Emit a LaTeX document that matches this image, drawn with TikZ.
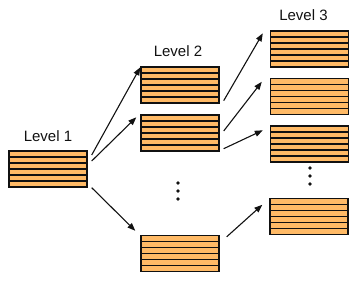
\documentclass[tikz,border=0pt]{standalone}
\usepackage{fontspec}
\setmainfont{Liberation Sans}
\usepackage{tikz}
\usetikzlibrary{arrows.meta,positioning,calc}
\definecolor{crate}{HTML}{FFBA66}
\definecolor{ink}{HTML}{111111}
\tikzset{
  stack/.style={rectangle, draw=ink, fill=crate, line width=1.4pt, inner sep=0pt,
                minimum width=78pt, minimum height=36pt,
                path picture={\foreach \k in {1,...,5}{
                  \draw[ink, line width=1.4pt]
                    ($(path picture bounding box.south west)!\k/6!(path picture bounding box.north west)$) --
                    ($(path picture bounding box.south east)!\k/6!(path picture bounding box.north east)$);}}},
  lvl/.style={font=\fontsize{15}{18}\selectfont, inner sep=0pt, text=ink},
  flow/.style={-{Triangle[length=8pt,width=6pt]}, draw=ink, line width=1.1pt},
  dot/.style={circle, fill=ink, inner sep=0pt, minimum size=3.6pt}
}
\begin{document}
\begin{tikzpicture}[x=1pt,y=1pt]
  \useasboundingbox (0,0) rectangle (354,288);
  % level 1
  \node[stack] (l1) at (48,119) {};
  % level 2
  \node[stack] (l2a) at (180,203) {};
  \node[stack] (l2b) at (180,155) {};
  \node[stack] (l2c) at (180,34.5) {};
  % level 3
  \node[stack] (l3a) at (309.5,239) {};
  \node[stack] (l3b) at (309.5,191.5) {};
  \node[stack] (l3c) at (309.5,144) {};
  \node[stack] (l3d) at (309,71.5) {};
  % labels
  \node[lvl, above=8pt of l1] (t1) {Level 1};
  \node[lvl, above=9pt of l2a, xshift=-2pt] (t2) {Level 2};
  \node[lvl, above=9pt of l3a, xshift=-6pt] (t3) {Level 3};
  % elided boxes
  \foreach \y in {105,97,89} \node[dot] (d2\y) at (178,\y) {};
  \foreach \y in {120,112,104} \node[dot] (d3\y) at (310,\y) {};
  % level 1 -> level 2
  \draw[flow] ([shift={(4pt,14pt)}]l1.east) -- ([shift={(0pt,-1pt)}]l2a.north west);
  \draw[flow] ([shift={(4pt,8pt)}]l1.east) -- ([shift={(-4pt,-3pt)}]l2b.north west);
  \draw[flow] ([shift={(4pt,0pt)}]l1.south east) -- ([shift={(-5pt,4pt)}]l2c.north west);
  % level 2 -> level 3
  \draw[flow] ([shift={(4pt,3pt)}]l2a.south east) -- ([shift={(-7pt,-3pt)}]l3a.north west);
  \draw[flow] ([shift={(4pt,2pt)}]l2b.east) -- ([shift={(-8pt,-4pt)}]l3b.north west);
  \draw[flow] ([shift={(4pt,3pt)}]l2b.south east) -- ([shift={(-7pt,-5pt)}]l3c.north west);
  \draw[flow] ([shift={(7pt,-2pt)}]l2c.north east) -- ([shift={(-7pt,-7pt)}]l3d.north west);
\end{tikzpicture}
\end{document}
